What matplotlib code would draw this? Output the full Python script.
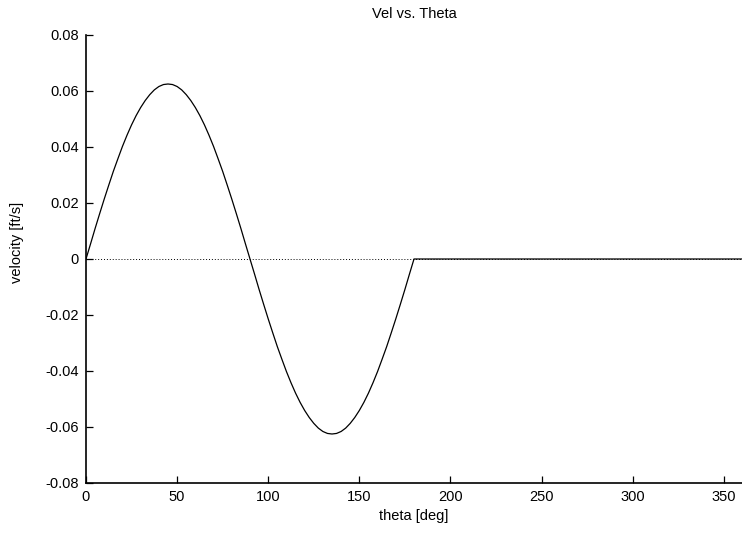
import numpy as np
import matplotlib
matplotlib.use("Agg")
import matplotlib.pyplot as plt

# velocity every 2.5 deg over the first lobe (0..90 deg)
theta_lobe = [0, 2.5, 5, 7.5, 10, 12.5, 15, 17.5, 20, 22.5, 25, 27.5, 30, 32.5, 35, 37.5,
              40, 42.5, 45, 47.5, 50, 52.5, 55, 57.5, 60, 62.5, 65, 67.5, 70, 72.5, 75,
              77.5, 80, 82.5, 85, 87.5, 90]
vel_lobe = [0.0, 0.0054, 0.0109, 0.0162, 0.0214, 0.0264, 0.0313, 0.0358, 0.0402, 0.0442,
            0.0479, 0.0512, 0.0541, 0.0566, 0.0587, 0.0604, 0.0616, 0.0623, 0.0625, 0.0623,
            0.0616, 0.0604, 0.0587, 0.0566, 0.0541, 0.0512, 0.0479, 0.0442, 0.0402, 0.0358,
            0.0313, 0.0264, 0.0214, 0.0162, 0.0109, 0.0054, 0.0]
# second lobe (90..180) is the mirror below zero, then flat zero to 360
theta_flat = [180, 360]
vel_flat = [0.0, 0.0]

theta = theta_lobe + [90 + t for t in theta_lobe[1:]] + theta_flat[1:]
vel = vel_lobe + [-v for v in vel_lobe[1:]] + vel_flat[1:]

xticks = [0, 50, 100, 150, 200, 250, 300, 350]
yticks = [-0.08, -0.06, -0.04, -0.02, 0, 0.02, 0.04, 0.06, 0.08]
ytick_labels = ["-0.08", "-0.06", "-0.04", "-0.02", "0", "0.02", "0.04", "0.06", "0.08"]

plt.rcParams['font.family'] = ['Liberation Sans', 'DejaVu Sans']
plt.rcParams['font.size'] = 10.5

fig = plt.figure(figsize=(7.42, 5.35), dpi=100)
ax = fig.add_axes([0.1159, 0.0972, 0.8841, 0.8374])

ax.axhline(0, color='black', linestyle=(0, (1, 2)), linewidth=0.7)
ax.plot(theta, vel, color='black', linewidth=0.9)

ax.set_xlim(0, 360)
ax.set_ylim(-0.08, 0.08)
ax.set_xticks(xticks)
ax.set_yticks(yticks)
ax.set_yticklabels(ytick_labels)
ax.tick_params(direction='in', length=5, width=0.9, pad=5)

for side in ['top', 'right']:
    ax.spines[side].set_visible(False)
for side in ['left', 'bottom']:
    ax.spines[side].set_linewidth(1.2)

ax.set_title('Vel vs. Theta', fontsize=10.5, pad=12)
ax.set_xlabel('theta [deg]', labelpad=4)
ax.set_ylabel('velocity [ft/s]')
ax.yaxis.set_label_coords(-0.095, 0.538)

fig.savefig('out.png', dpi=100)
